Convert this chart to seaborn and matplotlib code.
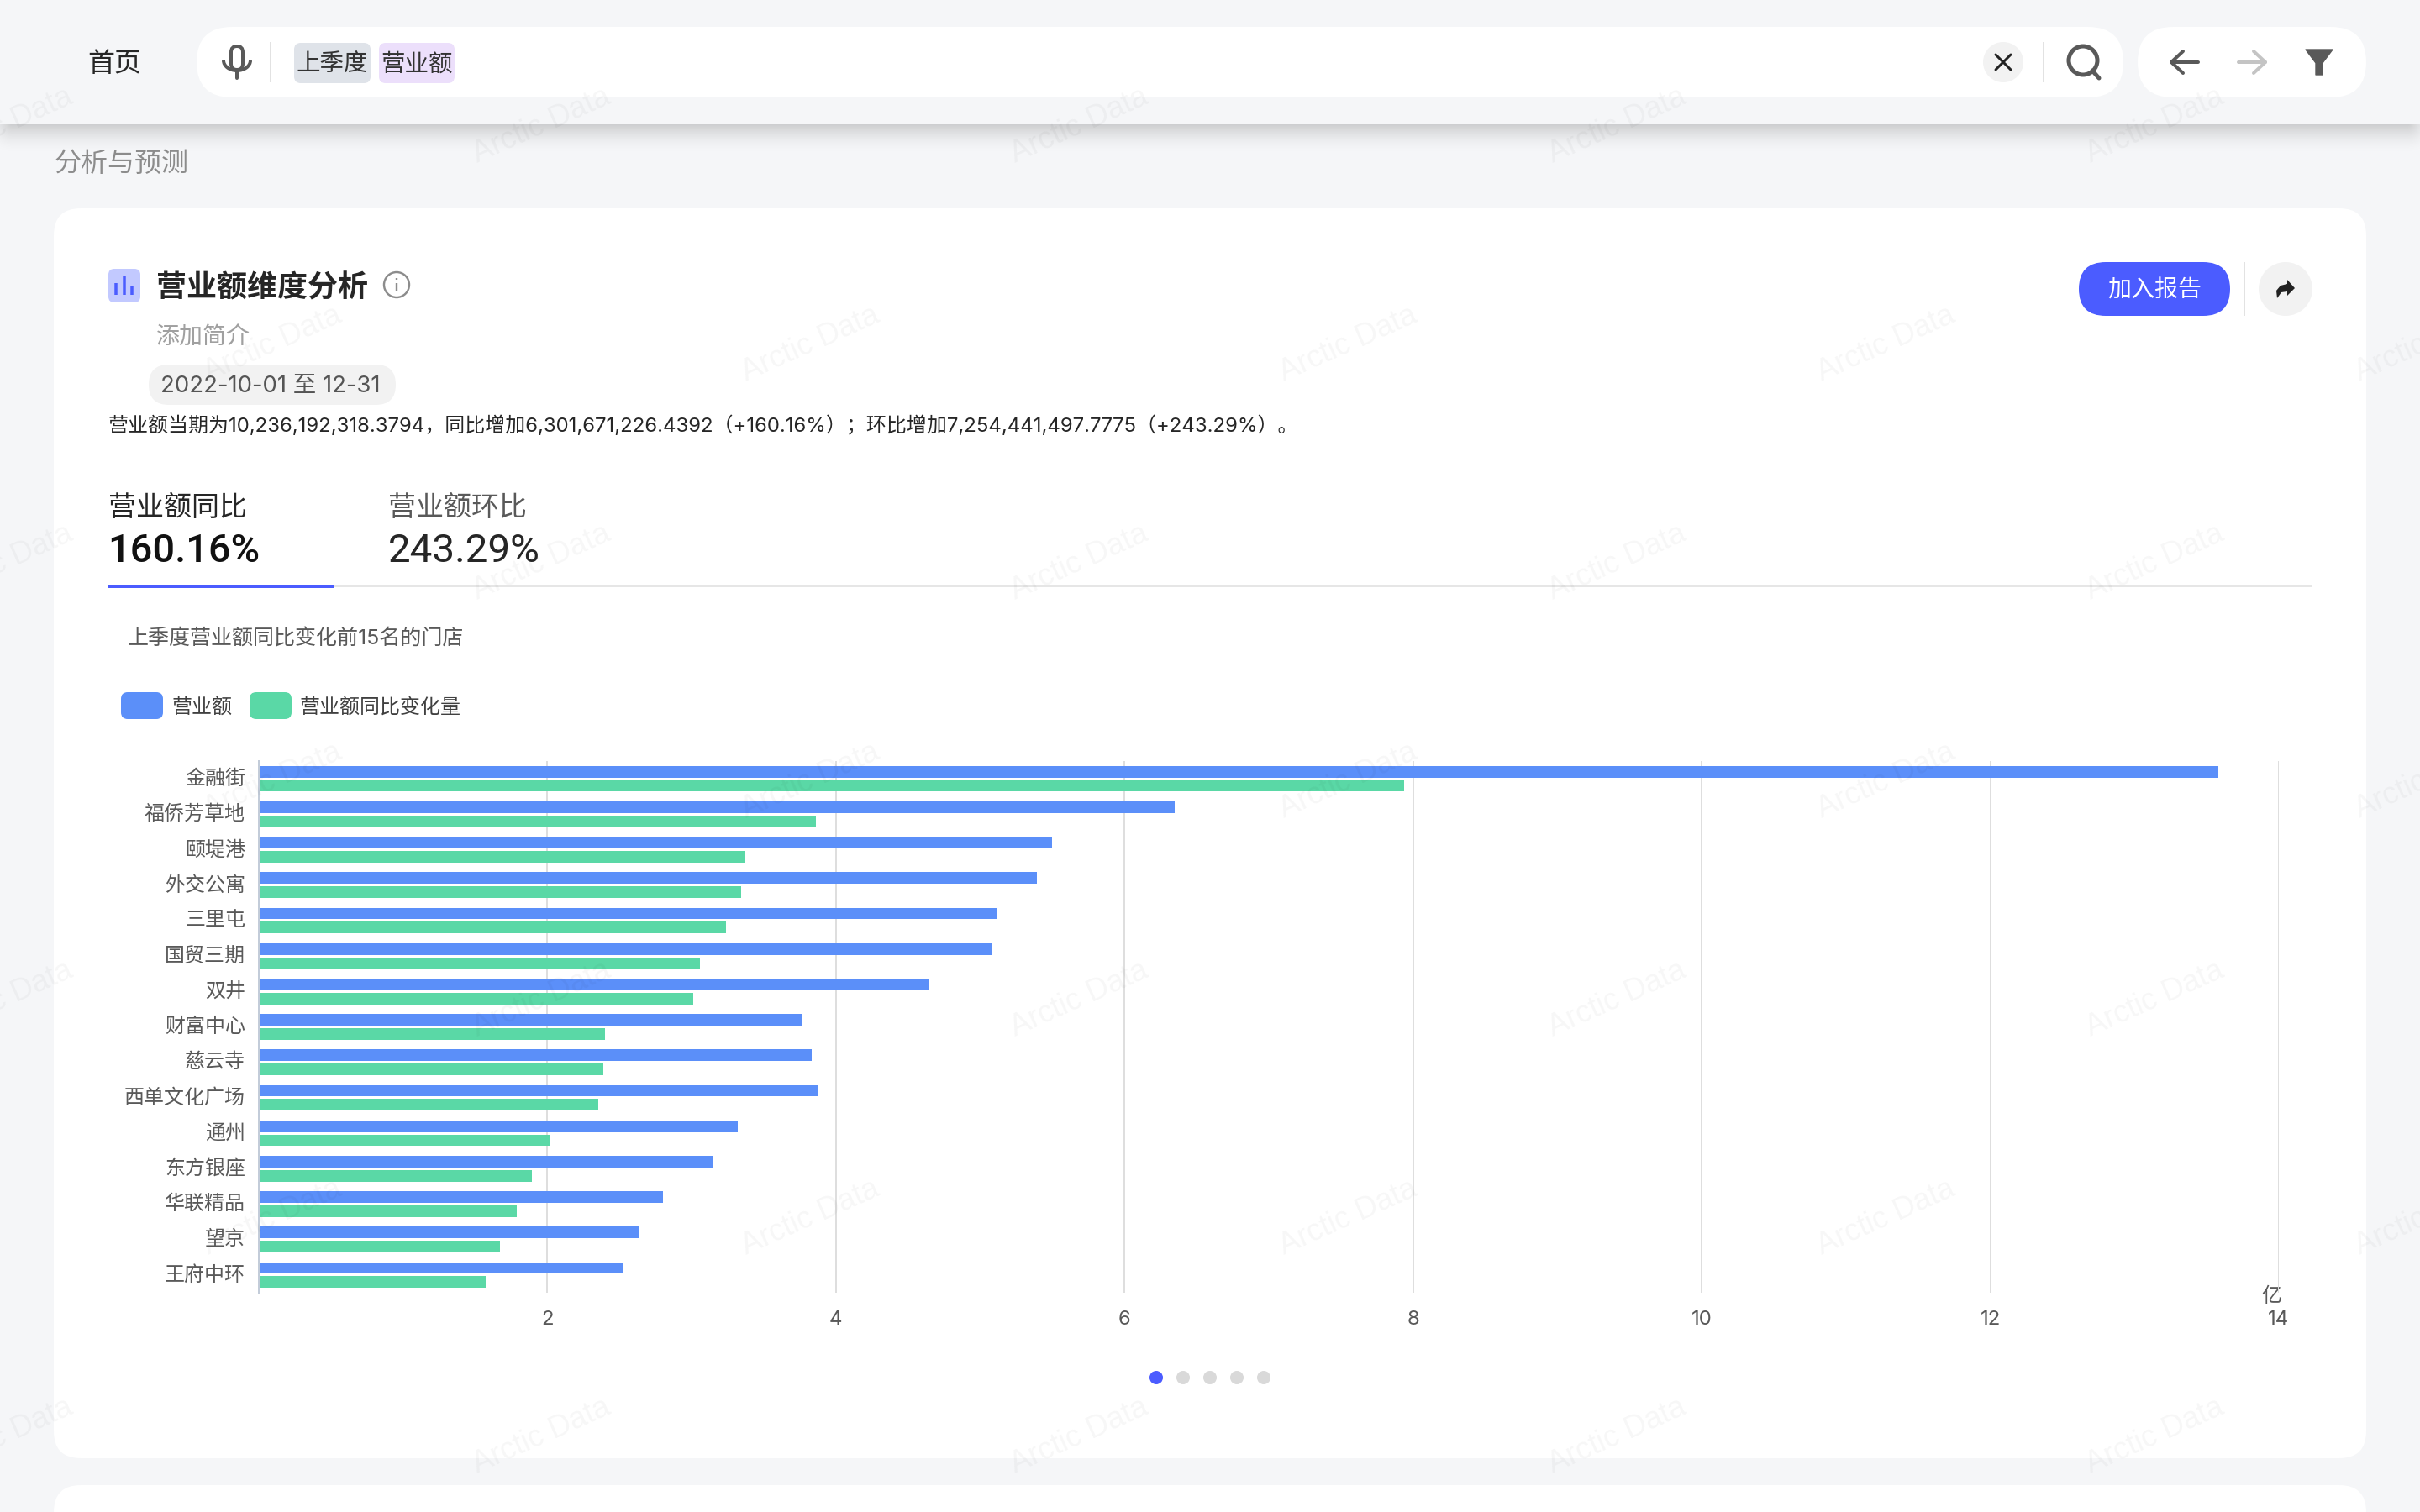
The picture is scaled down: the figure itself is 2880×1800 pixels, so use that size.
"""Revenue dimension analysis dashboard, horizontal bars with seaborn."""

import matplotlib.pyplot as plt
import numpy as np
import pandas as pd
import seaborn as sns
from matplotlib.patches import Arc, Circle, FancyBboxPatch, Polygon, Rectangle
from matplotlib.transforms import ScaledTranslation

W, H = 2880, 1800
FONT = ["Inter", "Noto Sans CJK SC", "DejaVu Sans"]

stores = ["金融街", "福侨芳草地", "颐堤港", "外交公寓", "三里屯", "国贸三期", "双井", "财富中心",
          "慈云寺", "西单文化广场", "通州", "东方银座", "华联精品", "望京", "王府中环"]
revenue = [13.58, 6.35, 5.50, 5.39, 5.12, 5.08, 4.65, 3.76, 3.83, 3.87, 3.32, 3.15, 2.80, 2.63, 2.52]
revenue_change = [7.94, 3.86, 3.37, 3.34, 3.24, 3.06, 3.01, 2.40, 2.39, 2.35, 2.02, 1.89, 1.79, 1.67, 1.57]
x_ticks = [2, 4, 6, 8, 10, 12, 14]

series_names = ["营业额", "营业额同比变化量"]
series_colors = ["#5b8ff9", "#5ad8a6"]

BG = "#f5f6f8"
ACCENT = "#4b5cff"
GREY_ICON = "#595959"
PANEL = "#f2f2f2"
DIVIDER = "#e2e2e2"

sns.set_theme(style="white")
plt.rcParams["font.family"] = FONT

fig = plt.figure(figsize=(W / 100, H / 100), dpi=100, facecolor=BG)
bg = fig.add_axes([0, 0, 1, 1], zorder=0)


def px(n):
    """Screen pixels to points at dpi 100."""
    return n * 0.72


def rbox(x0, y0, x1, y1, r, color, **kw):
    bg.add_patch(FancyBboxPatch((x0, y0), x1 - x0, y1 - y0, boxstyle=f"round,pad=0,rounding_size={r}",
                                facecolor=color, edgecolor="none", linewidth=0, **kw))


def label(x, y, s, size, color, ha="left", weight="normal", family=None):
    bg.text(x, y, s, fontsize=px(size), color=color, ha=ha, va="center", fontweight=weight,
            family=family or FONT)


def line(xs, ys, color, width, cap="round"):
    bg.plot(xs, ys, color=color, lw=px(width), solid_capstyle=cap, solid_joinstyle="round")


def soft_shadow(x0, y0, x1, y1, r, blur, alpha):
    """CSS-like box shadow: fades out from the box edge over `blur` pixels."""
    pad = blur + 2
    xs = np.arange(x0 - pad, x1 + pad)
    ys = np.arange(y0 - pad, y1 + pad)
    gx, gy = np.meshgrid(xs, ys)
    dx = np.maximum(np.abs(gx - (x0 + x1) / 2) - ((x1 - x0) / 2 - r), 0)
    dy = np.maximum(np.abs(gy - (y0 + y1) / 2) - ((y1 - y0) / 2 - r), 0)
    dist = np.clip((np.hypot(dx, dy) - r) / blur, 0, 1)
    img = np.zeros(gx.shape + (4,))
    img[..., 3] = alpha * (1 - dist) ** 2
    bg.imshow(img, extent=(xs[0], xs[-1], ys[-1], ys[0]), aspect="auto", interpolation="bilinear")


# ---------------------------------------------------------------------------
# Page background, top bar, cards
# ---------------------------------------------------------------------------
soft_shadow(12, 20, 2868, 148, 2, 38, 0.17)
bg.add_patch(Rectangle((0, 0), W, 148, facecolor=BG, edgecolor="none"))

soft_shadow(234, 40, 2527, 116, 40, 34, 0.09)
soft_shadow(2544, 40, 2816, 116, 40, 34, 0.09)
rbox(234, 32, 2527, 116, 42, "white")
rbox(2544, 32, 2816, 116, 42, "white")
rbox(64, 248, 2816, 1736, 32, "white")
rbox(64, 1768, 2816, 1900, 32, "white")

label(136, 76, "首页", 32, "#262626", ha="center")

# microphone
bg.add_patch(FancyBboxPatch((275, 55), 14, 28, boxstyle="round,pad=0,rounding_size=7",
                            facecolor="white", edgecolor=GREY_ICON, linewidth=px(4)))
bg.add_patch(Arc((282, 72), 32, 24, theta1=0, theta2=180, edgecolor=GREY_ICON, linewidth=px(4)))
line([282, 282], [84, 93], GREY_ICON, 4)
line([322, 322], [50, 98], DIVIDER, 2, "butt")

rbox(350, 51, 441, 99, 8, "#dfe3e9")
rbox(451, 51, 541, 99, 8, "#ecdffb")
label(395.5, 77, "上季度", 28.5, "#333333", ha="center")
label(496, 77, "营业额", 28.5, "#333333", ha="center")

# clear button and search
bg.add_patch(Circle((2384, 74), 24, facecolor=PANEL, edgecolor="none"))
line([2375, 2393], [65, 83], "#222222", 3)
line([2375, 2393], [83, 65], "#222222", 3)
line([2432, 2432], [50, 98], DIVIDER, 2, "butt")
bg.add_patch(Circle((2479, 72), 17, facecolor="none", edgecolor=GREY_ICON, linewidth=px(5)))
line([2490, 2498], [84, 93], GREY_ICON, 5)

# back, forward, filter
line([2584, 2616], [74, 74], GREY_ICON, 4)
line([2598, 2584, 2598], [61, 74, 87], GREY_ICON, 4)
line([2664, 2696], [74, 74], "#c4c4c4", 4)
line([2682, 2696, 2682], [61, 74, 87], "#c4c4c4", 4)
bg.add_patch(Polygon([(2744, 59), (2776, 59), (2764, 75), (2764, 89), (2756, 89), (2756, 75)],
                     closed=True, facecolor=GREY_ICON, edgecolor=GREY_ICON, linewidth=1, joinstyle="round"))

label(65, 195, "分析与预测", 32, "#8c8c8c")

# ---------------------------------------------------------------------------
# Card header
# ---------------------------------------------------------------------------
rbox(129, 320, 167, 360, 7, "#c2c9ff")
for bx, top in zip([138, 147.5, 157], [337, 328, 341]):
    line([bx, bx], [top, 351], ACCENT, 3.5, "butt")
label(186, 343, "营业额维度分析", 36, "#262626", weight="bold")
bg.add_patch(Circle((472, 339), 15, facecolor="none", edgecolor="#8c8c8c", linewidth=px(2.4)))
line([472, 472], [337, 347], "#8c8c8c", 2.4, "butt")
line([472, 472], [331, 333], "#8c8c8c", 2.4, "butt")
label(186, 401, "添加简介", 28, "#a0a0a0")
rbox(177, 434, 471, 482, 24, PANEL)
label(191, 460, "2022-10-01 至 12-31", 27.5, "#555555")
label(129, 507, "营业额当期为10,236,192,318.3794，同比增加6,301,671,226.4392（+160.16%）；"
      "环比增加7,254,441,497.7775（+243.29%）。", 24, "#262626")

rbox(2474, 312, 2654, 376, 32, ACCENT)
label(2564, 346, "加入报告", 28, "white", ha="center")
line([2671, 2671], [312, 376], DIVIDER, 2, "butt")
bg.add_patch(Circle((2720, 344), 32, facecolor=PANEL, edgecolor="none"))
bg.add_patch(Polygon([(2722, 333), (2731, 343), (2722, 352), (2722, 347), (2715, 348), (2710, 355),
                      (2709, 346), (2714, 340), (2722, 338)], closed=True, facecolor="#222222", edgecolor="none"))

# ---------------------------------------------------------------------------
# Tabs
# ---------------------------------------------------------------------------
label(129, 605, "营业额同比", 33, "#262626")
label(128, 656, "160.16%", 47, "#111111", weight="medium", family="Roboto")
label(462, 605, "营业额环比", 33, "#595959")
label(462, 656, "243.29%", 47.5, "#262626", family="Roboto")
bg.add_patch(Rectangle((398, 697), 2353, 2, facecolor="#e6e6e6", edgecolor="none"))
bg.add_patch(Rectangle((128, 696), 270, 4, facecolor=ACCENT, edgecolor="none"))

label(152, 761, "上季度营业额同比变化前15名的门店", 25, "#595959")

# legend swatches
for sx, name, color in zip([144, 297], series_names, series_colors):
    rbox(sx, 824, sx + 50, 856, 8, color)
    label(sx + 60, 842, name, 24, "#404040")

# pager
for i, dx in enumerate([1376, 1408, 1440, 1472, 1504]):
    bg.add_patch(Circle((dx, 1640), 8, facecolor=ACCENT if i == 0 else "#d9d9d9", edgecolor="none"))

bg.set_xlim(0, W)
bg.set_ylim(H, 0)
bg.axis("off")

# ---------------------------------------------------------------------------
# Chart
# ---------------------------------------------------------------------------
ax = fig.add_axes([308 / W, 1 - 1539 / H, (2712 - 308) / W, (1539 - 906) / H], zorder=1)
ax.patch.set_alpha(0)

df = pd.DataFrame({"store": stores, series_names[0]: revenue, series_names[1]: revenue_change})
long_df = df.melt(id_vars="store", var_name="series", value_name="value")

sns.barplot(data=long_df, y="store", x="value", hue="series", palette=series_colors, saturation=1,
            width=0.796, gap=0.185, linewidth=0, legend=False, ax=ax)

ax.set_xlim(0, 14)
ax.set_ylim(len(stores) - 0.5, -0.5)
ax.set_xlabel("")
ax.set_ylabel("")
ax.set_xticks(x_ticks)
ax.set_xticklabels([str(v) for v in x_ticks], fontsize=px(24), color="#595959")
ax.set_yticks(range(len(stores)))
ax.set_yticklabels(stores, fontsize=px(24), color="#595959")
ax.set_yticks(np.arange(len(stores) + 1) - 0.5, minor=True)
ax.tick_params(axis="y", which="major", length=0, pad=px(16))
ax.tick_params(axis="y", which="minor", length=px(10), width=px(2), color="#c3ccd9")
ax.tick_params(axis="x", length=0, pad=px(21))
# the store names sit a little above the band centre in the reference
nudge_up = ScaledTranslation(0, 2 / 100, fig.dpi_scale_trans)
for tick_label in ax.get_yticklabels():
    tick_label.set_transform(tick_label.get_transform() + nudge_up)
ax.grid(axis="x", color="#dedede", linewidth=px(2))
ax.set_axisbelow(True)
for side in ("top", "right", "bottom"):
    ax.spines[side].set_visible(False)
ax.spines["left"].set_color("#c3ccd9")
ax.spines["left"].set_linewidth(px(2))

bg.text(2703, 1544, "亿", fontsize=px(24), color="#595959", ha="center", va="center")

# ---------------------------------------------------------------------------
# Watermark on top of everything
# ---------------------------------------------------------------------------
for row, wy in enumerate(range(150, 1800, 260)):
    offset = 320 if row % 2 else 0
    for col in range(5):
        wx = 4 + 640 * col + offset
        fig.text(wx / W, 1 - wy / H, "Arctic Data", fontsize=px(36), color="black", alpha=0.035,
                 family="Liberation Sans", rotation=24, ha="center", va="center",
                 rotation_mode="anchor", zorder=5)

fig.savefig("out.png", dpi=100, facecolor=BG)
plt.close(fig)
